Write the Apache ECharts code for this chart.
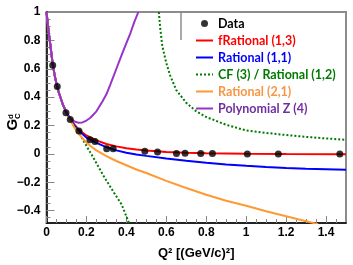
<!DOCTYPE html>
<html><head><meta charset="utf-8">
<script src="https://cdn.jsdelivr.net/npm/echarts@6/dist/echarts.min.js"></script>
<style>html,body{margin:0;padding:0;background:#fff}#c{width:353px;height:265px}</style>
</head><body><div id="c"></div>
<script>
// ---- data ----
const dataPoints = [[0.031,0.625],[0.054,0.475],[0.0975,0.29],[0.119,0.242],[0.1625,0.162],[0.2175,0.10],[0.243,0.088],[0.3015,0.037],[0.334,0.036],[0.4925,0.018],[0.556,0.014],[0.651,0.003],[0.694,0.004],[0.7725,0.002],[0.831,0.002],[1.006,0.0],[1.161,0.0],[1.469,-0.001]];
const lowQ = [[0,1.0],[0.01,0.87],[0.02,0.76],[0.03,0.645],[0.04,0.56],[0.05,0.495],[0.06,0.44],[0.08,0.355],[0.1,0.29]];
const fRational13 = [[0.12,0.245],[0.14,0.205],[0.16,0.175],[0.18,0.15],[0.2,0.13],[0.25,0.095],[0.3,0.07],[0.35,0.053],[0.4,0.04],[0.45,0.031],[0.5,0.024],[0.6,0.014],[0.7,0.008],[0.8,0.005],[0.9,0.003],[1.0,0.001],[1.2,-0.001],[1.5,-0.002]];
const rational11 = [[0.12,0.243],[0.14,0.2],[0.16,0.165],[0.18,0.14],[0.2,0.115],[0.25,0.078],[0.3,0.048],[0.35,0.025],[0.4,0.008],[0.45,-0.004],[0.5,-0.014],[0.6,-0.032],[0.7,-0.048],[0.8,-0.062],[0.9,-0.074],[1.0,-0.084],[1.1,-0.092],[1.2,-0.099],[1.3,-0.104],[1.4,-0.108],[1.5,-0.112]];
const cfLeft = [[0.12,0.24],[0.14,0.195],[0.1675,0.135],[0.2,0.057],[0.234,-0.025],[0.284,-0.151],[0.334,-0.265],[0.376,-0.356],[0.414,-0.49]];
const cfRight = [[0.5625,1.0],[0.57,0.88],[0.58,0.76],[0.6,0.64],[0.62,0.55],[0.65,0.45],[0.7,0.36],[0.75,0.30],[0.8,0.26],[0.9,0.205],[1.0,0.165],[1.1,0.148],[1.2,0.133],[1.3,0.12],[1.4,0.109],[1.5,0.099]];
const rational21 = [[0.12,0.235],[0.14,0.185],[0.16,0.145],[0.18,0.11],[0.2,0.08],[0.225,0.05],[0.25,0.025],[0.3,-0.015],[0.35,-0.05],[0.4,-0.08],[0.45,-0.11],[0.5,-0.135],[0.6,-0.19],[0.7,-0.24],[0.8,-0.288],[0.9,-0.33],[1.0,-0.366],[1.1,-0.404],[1.2,-0.44],[1.3,-0.474],[1.36,-0.495]];
const polyZ4 = [[0.12,0.25],[0.14,0.228],[0.16,0.22],[0.18,0.222],[0.2,0.235],[0.22,0.255],[0.25,0.30],[0.28,0.37],[0.3,0.42],[0.32,0.49],[0.35,0.60],[0.38,0.71],[0.4,0.78],[0.42,0.85],[0.44,0.93],[0.46,1.0]];
const xMajor = [0,0.2,0.4,0.6,0.8,1.0,1.2,1.4];
const xMinor = [0,0.05,0.1,0.15,0.2,0.25,0.3,0.35,0.4,0.45,0.5,0.55,0.6,0.65,0.7,0.75,0.8,0.85,0.9,0.95,1.0,1.05,1.1,1.15,1.2,1.25,1.3,1.35,1.4,1.45];
const yMajor = [-0.4,-0.2,0,0.2,0.4,0.6,0.8,1.0];
const yMinor = [-0.45,-0.4,-0.35,-0.3,-0.25,-0.2,-0.15,-0.1,-0.05,0,0.05,0.1,0.15,0.2,0.25,0.3,0.35,0.4,0.45,0.5,0.55,0.6,0.65,0.7,0.75,0.8,0.85,0.9,0.95,1.0];
const names = ['Data','fRational (1,3)','Rational (1,1)','CF (3) / Rational (1,2)','Rational (2,1)','Polynomial Z (4)'];
const textColors = ['#000000','#ff0000','#0000ff','#007a00','#f79646','#7030a0'];

const chart = echarts.init(document.getElementById('c'), null, {renderer:'canvas'});
const fmt = v => { if (Math.abs(v-1)<1e-9) return '1'; if (Math.abs(v)<1e-9) return '0'; return (v<0?'\u2212':'') + Math.abs(v).toFixed(1); };
const lbl = {fontFamily:'Liberation Sans', fontWeight:'bold', fontSize:12, color:'#000'};
const axisBase = {type:'value', splitLine:{show:false}, axisLine:{onZero:false}};
const withLow = arr => lowQ.concat(arr);
chart.setOption({
  animation:false,
  grid:{left:46.5, right:7, top:12, bottom:36, show:true, borderColor:'#8c8c8c', borderWidth:2},
  xAxis:[
    Object.assign({}, axisBase, {position:'bottom', min:0, max:1.5,
      axisLine:{show:true,onZero:false,lineStyle:{color:'#000',width:1.5}},
      axisTick:{show:true,inside:true,length:7,customValues:xMajor,lineStyle:{color:'#888'}},
      axisLabel:Object.assign({customValues:xMajor, formatter:fmt, margin:4}, lbl),
      name:'Q\u00b2 [(GeV/c)\u00b2]', nameLocation:'middle', nameGap:24,
      nameTextStyle:{fontFamily:'Liberation Sans', fontWeight:'bold', fontSize:13, color:'#000'}}),
    Object.assign({}, axisBase, {position:'bottom', min:0, max:1.5,
      axisLine:{show:false,onZero:false},
      axisTick:{show:true,inside:true,length:4,customValues:xMinor,lineStyle:{color:'#888'}},
      axisLabel:{show:false}})
  ],
  yAxis:[
    Object.assign({}, axisBase, {position:'left', min:-0.487, max:1,
      axisLine:{show:true,onZero:false,lineStyle:{color:'#000',width:1.5}},
      axisTick:{show:true,inside:true,length:8,customValues:yMajor,lineStyle:{color:'#888'}},
      axisLabel:Object.assign({customValues:yMajor, formatter:fmt, margin:6}, lbl)}),
    Object.assign({}, axisBase, {position:'left', min:-0.487, max:1,
      axisLine:{show:false,onZero:false},
      axisTick:{show:true,inside:true,length:4,customValues:yMinor,lineStyle:{color:'#888'}},
      axisLabel:{show:false}})
  ],
  legend:{orient:'vertical', left:190, top:12, itemWidth:17, itemHeight:7, itemGap:4, padding:5,
    textStyle:{fontFamily:'Lato', fontWeight:'bold', fontSize:12.5},
    data:names.map((n,i)=> i===0
      ? {name:n, icon:'circle', textStyle:{color:textColors[i]}}
      : {name:n, itemStyle:{opacity:0, borderWidth:0}, textStyle:{color:textColors[i]}})},
  graphic:[
    {type:'line', shape:{x1:181,y1:12,x2:181,y2:40}, style:{stroke:'#8c8c8c', lineWidth:1.5}, silent:true},
    {type:'group', x:20.5, y:130.5, rotation:Math.PI/2, children:[
      {type:'text', x:0, y:0, style:{text:'G', font:'bold 15px "Liberation Sans"', fill:'#000', textVerticalAlign:'bottom'}},
      {type:'text', x:11.5, y:-5.5, style:{text:'d', font:'bold 8px "Liberation Sans"', fill:'#000', textVerticalAlign:'bottom'}},
      {type:'text', x:11.5, y:1, style:{text:'C', font:'bold 8px "Liberation Sans"', fill:'#000', textVerticalAlign:'bottom'}}
    ]}
  ],
  series:[
    {name:names[0], type:'scatter', data:dataPoints, symbol:'circle', symbolSize:7, itemStyle:{color:'#000'}, z:5},
    {name:names[1], type:'line', data:withLow(fRational13), showSymbol:false, symbol:'none', lineStyle:{color:'#ff0000',width:2}, itemStyle:{color:'#ff0000'}, z:2},
    {name:names[2], type:'line', data:withLow(rational11), showSymbol:false, symbol:'none', lineStyle:{color:'#0000ff',width:2}, itemStyle:{color:'#0000ff'}, z:2},
    {name:names[3], type:'line', data:withLow(cfLeft), showSymbol:false, symbol:'none', lineStyle:{color:'#007a00',width:2,type:[2,2]}, itemStyle:{color:'#007a00'}, z:2},
    {name:names[3], type:'line', data:cfRight, showSymbol:false, symbol:'none', lineStyle:{color:'#007a00',width:2,type:[2,2]}, itemStyle:{color:'#007a00'}, z:2},
    {name:names[4], type:'line', data:withLow(rational21), showSymbol:false, symbol:'none', lineStyle:{color:'#ff9933',width:2}, itemStyle:{color:'#ff9933'}, z:2},
    {name:names[5], type:'line', data:withLow(polyZ4), showSymbol:false, symbol:'none', lineStyle:{color:'#9933cc',width:2}, itemStyle:{color:'#9933cc'}, z:3}
  ]
});
</script></body></html>
